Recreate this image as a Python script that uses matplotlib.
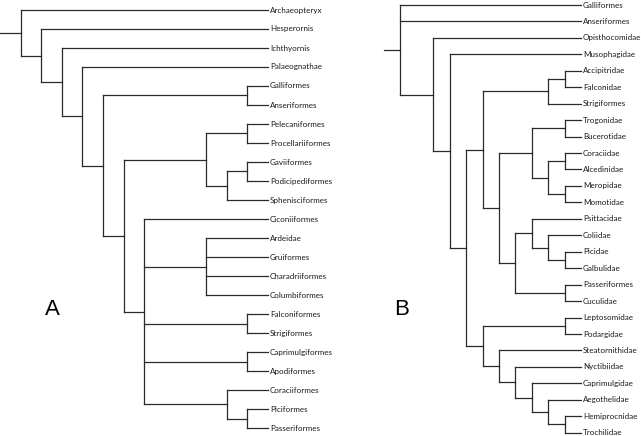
import matplotlib.pyplot as plt

# trees in Newick form, branch lengths in drawing units
TREE_A = ("(Archaeopteryx:12,(Hesperornis:11,(Ichthyornis:10,(Palaeognathae:9,"
          "((Galliformes:1,Anseriformes:1):7,"
          "(((Pelecaniformes:1,Procellariiformes:1):2,((Gaviiformes:1,Podicipediformes:1):1,Sphenisciformes:2):1):4,"
          "(Ciconiiformes:6,(Ardeidae:3,Gruiformes:3,Charadriiformes:3,Columbiformes:3):3,"
          "(Falconiformes:1,Strigiformes:1):5,(Caprimulgiformes:1,Apodiformes:1):5,"
          "(Coraciiformes:2,(Piciformes:1,Passeriformes:1):1):4):1):1):1):1):1):1):1;")

TREE_B = ("(Galliformes:11,Anseriformes:11,(Opisthocomidae:9,(Musophagidae:8,"
          "((((Accipitridae:1,Falconidae:1):1,Strigiformes:2):4,"
          "(((Trogonidae:1,Bucerotidae:1):2,((Coraciidae:1,Alcedinidae:1):1,(Meropidae:1,Momotidae:1):1):1):2,"
          "((Psittacidae:3,(Coliidae:2,(Picidae:1,Galbulidae:1):1):1):1,(Passeriformes:1,Cuculidae:1):3):1):1):1,"
          "((Leptosomidae:1,Podargidae:1):5,(Steatornithidae:5,(Nyctibiidae:4,(Caprimulgidae:3,"
          "(Aegothelidae:2,(Hemiprocnidae:1,Trochilidae:1):1):1):1):1):1):1):1):1):2):1;")

PANEL_LABELS = ["A", "B"]

LINE_COLOR = "#2a2a2a"
FONT = "Lato"


def parse_newick(s):
    s = s.strip().rstrip(";")
    pos = 0

    def node():
        nonlocal pos
        children = []
        if s[pos] == "(":
            pos += 1
            children.append(node())
            while s[pos] == ",":
                pos += 1
                children.append(node())
            pos += 1  # closing bracket
        start = pos
        while pos < len(s) and s[pos] not in ",():":
            pos += 1
        name = s[start:pos]
        length = 0.0
        if pos < len(s) and s[pos] == ":":
            pos += 1
            start = pos
            while pos < len(s) and s[pos] not in ",()":
                pos += 1
            length = float(s[start:pos])
        return {"name": name, "length": length, "children": children}

    return node()


def draw(ax, node, parent_x, leaves):
    x = parent_x + node["length"]
    if not node["children"]:
        y = len(leaves)
        leaves.append(node["name"])
        ax.annotate(node["name"], (x, y), xytext=(2, 0), textcoords="offset pixels",
                    ha="left", va="center", fontsize=5.8, family=FONT,
                    color="#1a1a1a", annotation_clip=False)
    else:
        ys = [draw(ax, c, x, leaves) for c in node["children"]]
        y = (ys[0] + ys[-1]) / 2
        ax.plot([x, x], [ys[0], ys[-1]], color=LINE_COLOR, lw=0.9,
                solid_capstyle="projecting", clip_on=False)
    ax.plot([parent_x, x], [y, y], color=LINE_COLOR, lw=0.9,
            solid_capstyle="projecting", clip_on=False)
    return y


W, H = 641, 436
fig = plt.figure(figsize=(W / 100, H / 100), dpi=100)
fig.patch.set_facecolor("white")

# panel A: x 0..13 units over px 0..268, leaves 0..22 over px 10..428
axA = fig.add_axes([0 / W, (H - 428) / H, 268 / W, (428 - 10) / H])
axA.set_xlim(0, 13)
axA.set_ylim(22, 0)
axA.axis("off")
draw(axA, parse_newick(TREE_A), 0, [])

# panel B: x 0..12 units over px 384..581, leaves 0..26 over px 5..432.7
axB = fig.add_axes([384 / W, (H - 432.7) / H, (581 - 384) / W, (432.7 - 5) / H])
axB.set_xlim(0, 12)
axB.set_ylim(26, 0)
axB.axis("off")
draw(axB, parse_newick(TREE_B), 0, [])

fig.text(52 / W, 1 - 309 / H, PANEL_LABELS[0], ha="center", va="center",
         fontsize=16, family="Liberation Sans")
fig.text(402 / W, 1 - 309.5 / H, PANEL_LABELS[1], ha="center", va="center",
         fontsize=16, family="Liberation Sans")

fig.savefig("out.png", dpi=100, facecolor="white")
